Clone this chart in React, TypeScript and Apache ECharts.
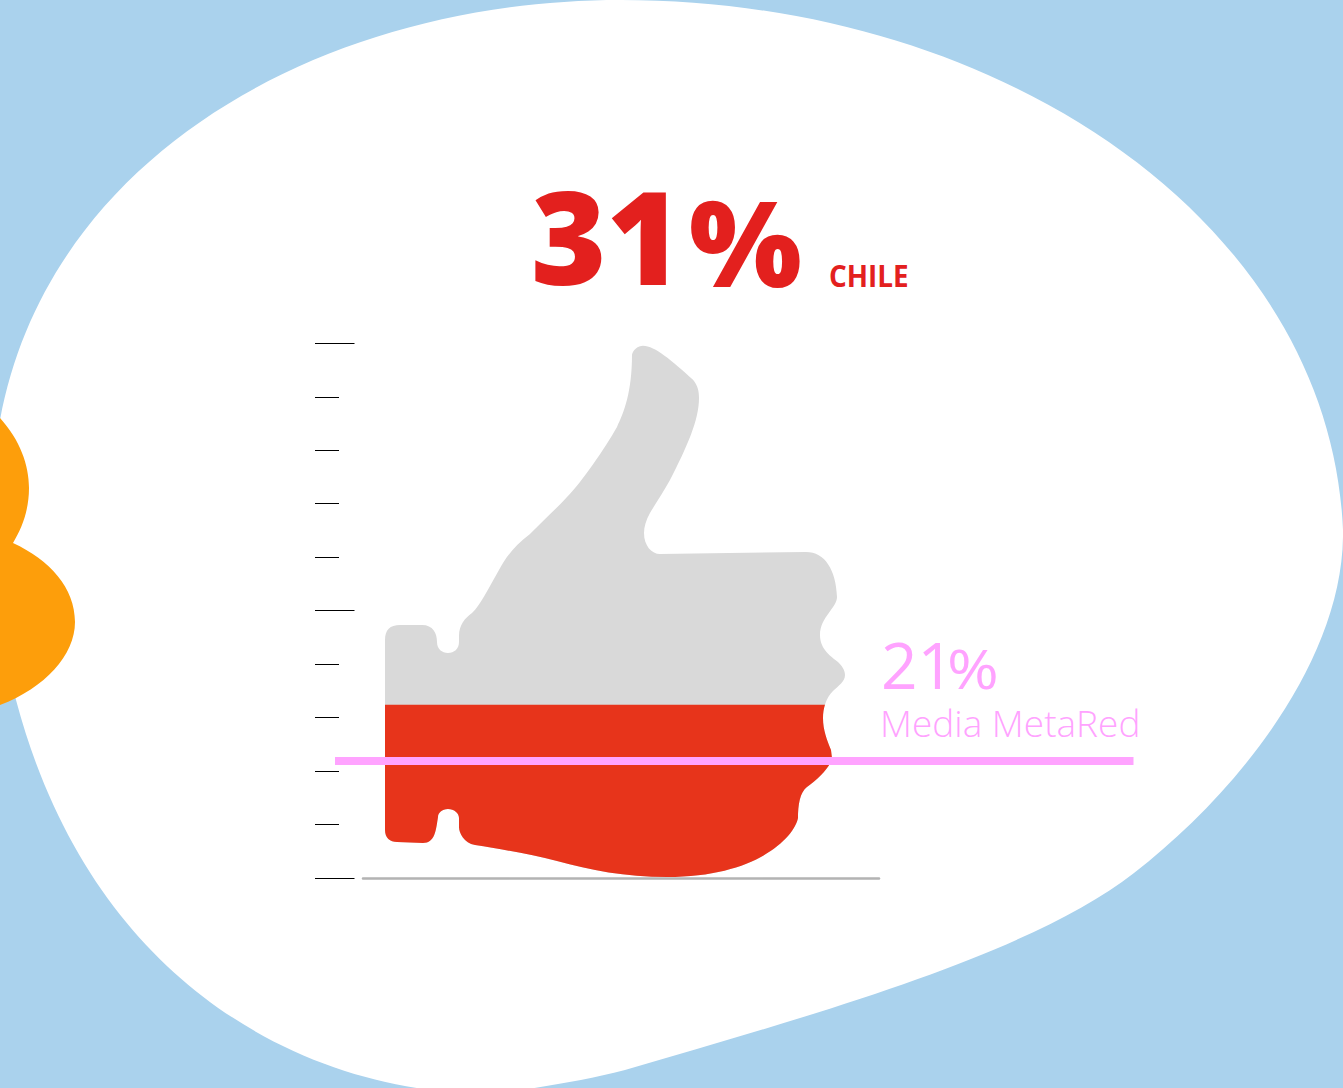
import React, { useEffect, useRef } from "react";
import * as echarts from "echarts";

// ---- data ----
const categories = ["Chile"];
const chileValue = [31];
const thumbFull = [94.33];
const metaredValue = [21, 21];
const metaredEnds = ["start", "end"];
const tickMin = 0;
const tickMax = 100;
const scaleMax = 100;

const chileName = "CHILE";
const metaredName = "Media MetaRed";

// ---- shapes ----
const THUMB =
  "M385 640 C385 630 390 625 400 625 L422 625 C433 625 437 633 437 642 C437 649 442 653 448 653 C454 653 459 649 459 642 " +
  "L459 636 C459 625 465 618 472 613 C480 606 492 582 503 563 C510 552 518 543 530 534 C545 519 557 508 567 497 " +
  "C582 482 605 448 617 427 C624 413 632 392 632 355 C633 350 638 346 643 346 C655 346 672 361 693 380 C698 386 699 392 699 398 " +
  "C699 420 687 447 670 480 C664 491 656 503 650 513 C646 520 644 527 644 533 C644 546 652 554 660 554 L806 552 " +
  "C825 552 836 570 837 597 C837 608 820 617 820 635 C820 650 832 657 838 662 C842 666 845 670 845 675 C845 682 838 686 833 691 " +
  "C826 698 823 708 823 718 C823 730 827 740 831 750 L832 758 C830 768 817 780 807 787 C800 792 798 805 798 818 " +
  "C795 835 760 877 667 877 C625 877 590 870 557 861 C530 854 500 849 475 845 C464 843 459 833 459 827 L459 818 " +
  "C459 813 454 809 448 809 C442 809 438 813 438 817 C436 830 435 843 423 843 L397 842 C390 842 385 838 385 830 Z";

const BLOB =
  "M0 420 C50 150 330 0 621 0 C1002 0 1330 223 1343 530 C1345 660 1235 795 1134 873 C1036 949 850 1005 625 1070 " +
  "C590 1079 555 1085 515 1091 L448 1092 C270 1075 85 960 16 700 C-5 620 -20 520 0 420 Z";

const ORANGE =
  "M0 418 C20 440 29 465 29 488 C29 510 22 528 13 543 C50 560 75 588 75 622 C75 655 45 688 0 705 L-40 705 L-40 418 Z";

echarts.graphic.registerShape("bgBlob", echarts.graphic.extendPath(BLOB, {}) as any);
echarts.graphic.registerShape("orangeBlob", echarts.graphic.extendPath(ORANGE, {}) as any);

const RED_TEXT = "#e3201e";
const PINK = "#ffa3ff";
const FONT = '"Open Sans", "Noto Sans", sans-serif';

// y is the text's baseline; the text box starts one ascent above it.
function txt(text: string, x: number, y: number, size: number, weight: number, fill: string, extra: any = {}) {
  return {
    type: "text",
    x,
    y: y - 0.89 * size,
    z: 5,
    silent: true,
    style: {
      text,
      fill,
      font: `${weight} ${size}px ${FONT}`,
      textAlign: "left",
    },
    ...extra,
  };
}

export default function App() {
  const ref = useRef<HTMLDivElement | null>(null);

  useEffect(() => {
    document.body.style.margin = "0";
    const chart = echarts.init(ref.current!, undefined, { renderer: "svg" });
    const gridCommon = { outerBoundsMode: "none" as const };
    chart.setOption({
      animation: false,
      backgroundColor: "#aad2ed",
      graphic: {
        elements: [
          { type: "bgBlob", x: 0, y: 0, z: -10, silent: true, style: { fill: "#ffffff" } },
          { type: "orangeBlob", x: 0, y: 0, z: -9, silent: true, style: { fill: "#fd9e0b" } },
          txt(String(chileValue[0]), 531, 285, 129, 800, RED_TEXT),
          txt("%", 689, 287, 119, 800, RED_TEXT),
          txt(chileName, 829, 287, 30, 700, RED_TEXT, { scaleX: 0.93 }),
          txt(String(metaredValue[0]), 881, 689, 64, 500, PINK),
          txt("%", 947, 689, 54, 500, PINK, { scaleX: 1.16 }),
          txt(metaredName, 880, 737, 37, 350, PINK),
        ],
      },
      grid: [
        { ...gridCommon, left: 315, top: 343.3, width: 100, height: 534.7 },
        { ...gridCommon, left: 363, top: 316.2, width: 516, height: 563 },
        { ...gridCommon, left: 335, top: 316.2, width: 798.5, height: 563 },
      ],
      xAxis: [
        { gridIndex: 0, type: "value", show: false, min: 0, max: 1 },
        {
          gridIndex: 1,
          type: "category",
          data: categories,
          offset: -1,
          axisLine: { show: true, lineStyle: { color: "#b3b3b3", width: 2.5 } },
          axisTick: { show: false },
          axisLabel: { show: false },
        },
        { gridIndex: 2, type: "category", data: metaredEnds, boundaryGap: false, show: false },
      ],
      yAxis: [
        {
          gridIndex: 0,
          type: "value",
          position: "left",
          min: tickMin,
          max: tickMax,
          interval: 10,
          axisLine: { show: false },
          axisLabel: { show: false },
          splitLine: { show: false },
          axisTick: { show: true, inside: true, length: 24, lineStyle: { color: "#000000", width: 1 } },
        },
        {
          gridIndex: 0,
          type: "value",
          position: "left",
          min: tickMin,
          max: tickMax,
          interval: 50,
          axisLine: { show: false },
          axisLabel: { show: false },
          splitLine: { show: false },
          axisTick: { show: true, inside: true, length: 39.5, lineStyle: { color: "#000000", width: 1 } },
        },
        { gridIndex: 1, type: "value", min: 0, max: scaleMax, show: false },
        { gridIndex: 2, type: "value", min: 0, max: scaleMax, show: false },
      ],
      series: [
        {
          name: "Total",
          type: "pictorialBar",
          xAxisIndex: 1,
          yAxisIndex: 2,
          data: thumbFull,
          symbol: "path://" + THUMB,
          symbolSize: ["100%", "100%"],
          symbolOffset: [-6, -2.2],
          barWidth: 460,
          barGap: "-100%",
          itemStyle: { color: "#d9d9d9" },
          z: 2,
          silent: true,
        },
        {
          name: "Chile",
          type: "pictorialBar",
          xAxisIndex: 1,
          yAxisIndex: 2,
          data: chileValue,
          symbol: "path://" + THUMB,
          symbolSize: ["100%", "100%"],
          symbolOffset: [-6, -2.2],
          symbolBoundingData: thumbFull[0],
          symbolClip: true,
          barWidth: 460,
          barGap: "-100%",
          itemStyle: { color: "#e7341b" },
          z: 3,
          silent: true,
        },
        {
          name: metaredName,
          type: "line",
          xAxisIndex: 2,
          yAxisIndex: 3,
          data: metaredValue,
          symbol: "none",
          lineStyle: { color: PINK, width: 8, cap: "butt" },
          z: 4,
          silent: true,
        },
      ],
    });
    return () => chart.dispose();
  }, []);

  return <div ref={ref} style={{ width: 1343, height: 1088 }} />;
}
